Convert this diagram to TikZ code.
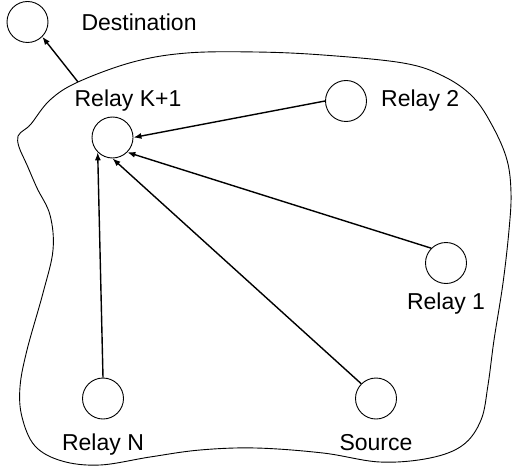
\documentclass[tikz,border=0pt]{standalone}
\usepackage{fontspec}
\setmainfont{Liberation Sans}
\usetikzlibrary{arrows.meta}

\begin{document}
\begin{tikzpicture}[x=0.5pt,y=-0.5pt,font=\fontsize{11.5}{14}\selectfont]
	\tikzstyle{main}=[circle, minimum size = 20.5pt, inner sep=0pt, line width=0.45pt, draw =black]
	\tikzstyle{connect}=[-{Latex[length=4pt,width=3pt]}, line width=0.7pt]
	\tikzstyle{region}=[line width=0.45pt]
	\useasboundingbox (0,0) rectangle (512,470);
	% the network area
	\draw[region] plot[smooth cycle, tension=0.6] coordinates {
		(78,82) (133,62) (187,53) (256,52) (323,55) (403,63) (443,76) (473,97)
		(493,127) (507,160) (511,193) (509,230) (503,283) (494,340) (488,385)
		(481,420) (463,445) (430,458) (380,462) (323,453) (256,448) (200,450)
		(150,457) (100,465) (62,461) (35,446) (22,417) (20,387) (27,350)
		(43,293) (53,250) (50,215) (37,188) (27,165) (19,147) (18,136)
		(24,130) (31,124) (50,100)};
	\coordinate (exit) at (78,82);
	\node[main] (dst) [label={[label distance=13pt]right:Destination}] at (27.5,22) {};
	\node[main] (k1) [label={[xshift=7.75pt,label distance=-0.75pt]above:Relay K+1}] at (112.5,137.5) {};
	\node[main] (r2) [label={[label distance=3.6pt]right:Relay 2}] at (346,101) {};
	\node[main] (r1) [label={[label distance=0.9pt]below:Relay 1}] at (446,263) {};
	\node[main] (src) [label={[label distance=4pt]below:Source}] at (376,398.5) {};
	\node[main] (rn) [label={[label distance=3.7pt]below:Relay N}] at (103,398.5) {};
	
	\path
	(exit) edge [connect] (dst.south east)
	(r2.west) edge [connect] (k1.east)
	(r1.north west) edge [connect] (k1.south east)
	(src.north west) edge [connect] (k1.south)
	(rn.north) edge [connect] (k1.south west);
\end{tikzpicture}
\end{document}
